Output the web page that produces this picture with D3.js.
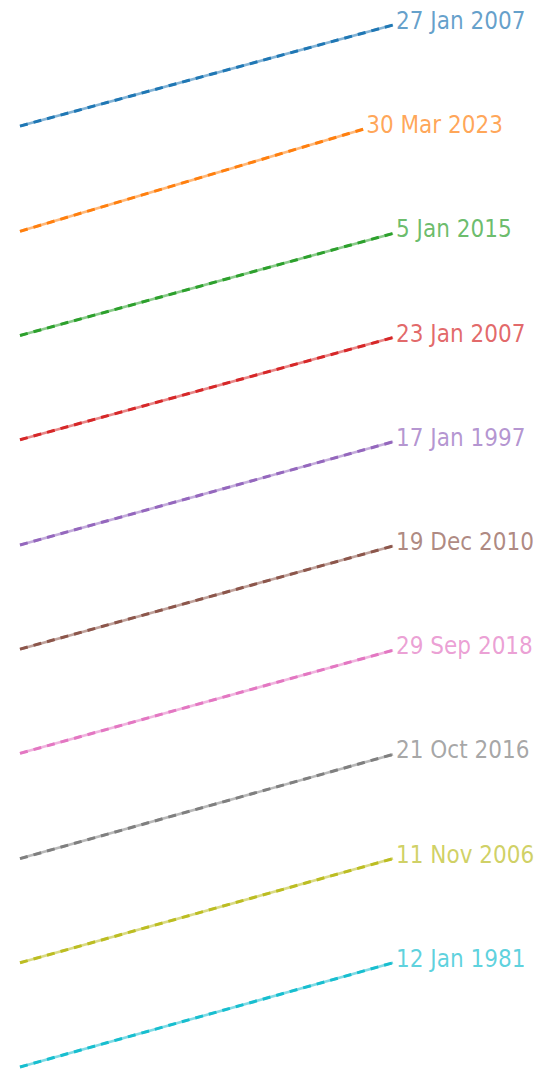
<!DOCTYPE html>
<html>
<head>
<meta charset="utf-8">
<script src="https://cdn.jsdelivr.net/npm/d3@7"></script>
<style>
  html, body { margin: 0; padding: 0; background: #ffffff; }
  svg { display: block; }
</style>
</head>
<body>
<svg id="chart" width="553" height="1070"></svg>
<script>
const labels = ["27 Jan 2007", "30 Mar 2023", "5 Jan 2015", "23 Jan 2007", "17 Jan 1997",
                "19 Dec 2010", "29 Sep 2018", "21 Oct 2016", "11 Nov 2006", "12 Jan 1981"];
const startValues = [9.03, 8.02, 7.02, 6.02, 5.01, 4.01, 3.01, 2.0, 1.0, 0];
const endValues   = [10, 9, 8, 7, 6, 5, 4, 3, 2, 1];
const startX = [0, 0, 0, 0, 0, 0, 0, 0, 0, 0];
const endX   = [1, 0.92, 1, 1, 1, 1, 1, 1, 1, 1];
const colors = ["#1f77b4", "#ff7f0e", "#2ca02c", "#d62728", "#9467bd",
                "#8c564b", "#e377c2", "#7f7f7f", "#bcbd22", "#17becf"];

const svg = d3.select("#chart");
const x = d3.scaleLinear().domain([0, 1]).range([20, 393]);
const y = d3.scaleLinear().domain([0, 10]).range([1067, 25]);

const series = labels.map((l, i) => ({
  label: l, color: colors[i],
  pts: [[startX[i], startValues[i]], [endX[i], endValues[i]]]
}));

const line = d3.line().x(d => x(d[0])).y(d => y(d[1]));

const g = svg.selectAll("g.s").data(series).join("g").attr("class", "s");

g.append("path")
  .attr("d", d => line(d.pts))
  .attr("fill", "none")
  .attr("stroke", d => d.color)
  .attr("stroke-width", 2.6)
  .attr("stroke-opacity", 0.55);

g.append("path")
  .attr("d", d => line(d.pts))
  .attr("fill", "none")
  .attr("stroke", d => d.color)
  .attr("stroke-width", 3)
  .attr("stroke-dasharray", "8,6");

g.append("text")
  .attr("x", d => x(d.pts[1][0]) + 3)
  .attr("y", d => y(d.pts[1][1]) - 3)
  .attr("dominant-baseline", "middle")
  .attr("font-family", "'DejaVu Sans Condensed', 'DejaVu Sans', sans-serif")
  .attr("font-stretch", "condensed")
  .attr("font-size", 24)
  .attr("fill", d => d.color)
  .attr("fill-opacity", 0.7)
  .text(d => d.label);
</script>
</body>
</html>
